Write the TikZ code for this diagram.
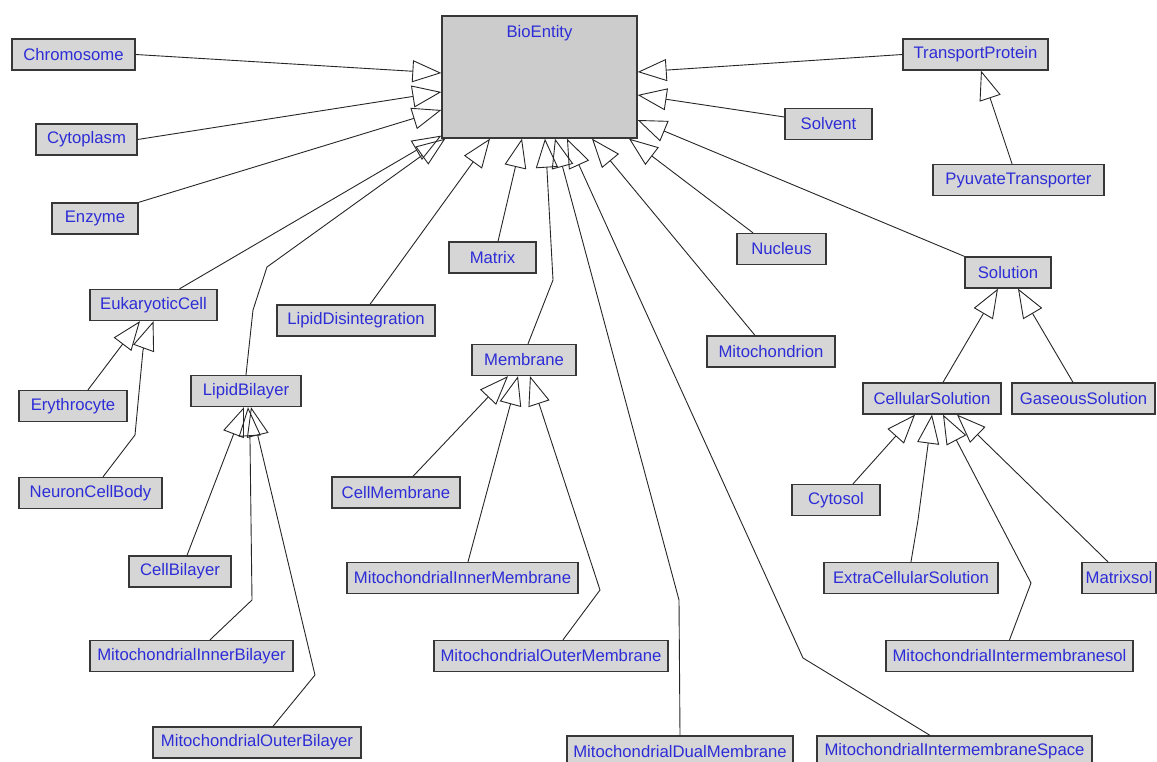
\documentclass[tikz,border=0pt]{standalone}
\usepackage{fontspec}
\setmainfont{Liberation Sans}
\usetikzlibrary{arrows.meta}
\definecolor{boxfill}{RGB}{214,214,214}
\definecolor{bigfill}{RGB}{204,204,204}
\definecolor{boxline}{RGB}{55,55,55}
\definecolor{labelblue}{RGB}{45,45,215}
\begin{document}
\begin{tikzpicture}
[x=1pt,y=-1pt,>={Triangle[open,length=29pt,width=22pt]},
boxtext/.style = {text=labelblue, font=\fontsize{16.7}{20}\selectfont},
box/.style = {draw=boxline, line width=1.3pt, fill=boxfill, boxtext, minimum height=31pt, inner sep=1pt},
isa/.style = {->, line width=0.9pt, draw=black!85},]
\clip (0,0) rectangle (1157,762);
\node (BE) at (539.5,77)[box,fill=bigfill,minimum width=195pt,minimum height=122pt,label={[boxtext,anchor=north,yshift=-7pt]north:BioEntity}] {};
\node (CH) at (73.5,54.5)[box,minimum width=123pt] {Chromosome};
\node (CY) at (86.5,139.5)[box,minimum width=101pt] {Cytoplasm};
\node (EN) at (95,218.5)[box,minimum width=86pt] {Enzyme};
\node (TP) at (975.5,54.5)[box,minimum width=145pt] {TransportProtein};
\node (SV) at (828.5,124)[box,minimum width=87pt] {Solvent};
\node (PT) at (1018.5,180)[box,minimum width=171pt] {PyuvateTransporter};
\node (NU) at (781.5,249)[box,minimum width=89pt] {Nucleus};
\node (MX) at (492.5,257.5)[box,minimum width=87pt] {Matrix};
\node (SO) at (1008,272.5)[box,minimum width=86pt] {Solution};
\node (EC) at (153.5,305)[box,minimum width=127pt] {EukaryoticCell};
\node (LD) at (356,320.5)[box,minimum width=158pt] {LipidDisintegration};
\node (MT) at (771,351.5)[box,minimum width=128pt] {Mitochondrion};
\node (MB) at (524,360)[box,minimum width=104pt] {Membrane};
\node (LB) at (246,391)[box,minimum width=110pt] {LipidBilayer};
\node (CS) at (932,398.5)[box,minimum width=138pt] {CellularSolution};
\node (GS) at (1083.5,398.5)[box,minimum width=143pt] {GaseousSolution};
\node (ER) at (73,406)[box,minimum width=108pt] {Erythrocyte};
\node (NC) at (90.5,493)[box,minimum width=143pt] {NeuronCellBody};
\node (CM) at (396,492.5)[box,minimum width=128pt] {CellMembrane};
\node (CT) at (836,500)[box,minimum width=88pt] {Cytosol};
\node (CB) at (180,571.5)[box,minimum width=102pt] {CellBilayer};
\node (IM) at (462.5,578)[box,minimum width=231pt] {MitochondrialInnerMembrane};
\node (EX) at (911,578)[box,minimum width=174pt] {ExtraCellularSolution};
\node (MS) at (1119,578)[box,minimum width=74pt] {Matrixsol};
\node (IB) at (191.5,656)[box,minimum width=203pt] {MitochondrialInnerBilayer};
\node (OM) at (551,656)[box,minimum width=234pt] {MitochondrialOuterMembrane};
\node (IS) at (1009.5,656)[box,minimum width=247pt] {MitochondrialIntermembranesol};
\node (OB) at (257,742.5)[box,minimum width=208pt] {MitochondrialOuterBilayer};
\node (DM) at (680,751.5)[box,minimum width=226pt] {MitochondrialDualMembrane};
\node (SP) at (954.5,751.5)[box,minimum width=275pt] {MitochondrialIntermembraneSpace};
% subclasses of BioEntity
\draw[isa] (CH.east) -- ([yshift=4pt]BE.west);
\draw[isa] (CY.east) -- ([yshift=-15pt]BE.west);
\draw[isa] (EN.north east) -- ([yshift=-33pt]BE.west);
\draw[isa] ([xshift=26pt]EC.north) -- ([yshift=3pt]BE.south west);
\draw[isa] (LB.north) -- (253,310) -- (267,267) -- ([xshift=4pt]BE.south west);
\draw[isa] ([xshift=14pt]LD.north) -- ([xshift=-49.5pt]BE.south);
\draw[isa] ([xshift=5.5pt]MX.north) -- ([xshift=-17.5pt]BE.south);
\draw[isa] ([xshift=4pt]MB.north) -- (553,280) -- (547,170) -- ([xshift=5.5pt]BE.south);
\draw[isa] (DM.north) -- (679,600) -- ([xshift=15.5pt]BE.south);
\draw[isa] ([xshift=-24.5pt]SP.north) -- (803,658) -- ([xshift=27.5pt]BE.south);
\draw[isa] ([xshift=-16pt]MT.north) -- ([xshift=52.5pt]BE.south);
\draw[isa] ([xshift=-28.5pt]NU.north) -- ([xshift=89.5pt]BE.south);
\draw[isa] (TP.west) -- ([yshift=5pt]BE.east);
\draw[isa] ([yshift=7pt]SV.west) -- ([yshift=-18pt]BE.east);
\draw[isa] (SO.north west) -- ([yshift=-43pt]BE.east);
% the other hierarchies
\draw[isa] ([xshift=-6.5pt]PT.north) -- ([xshift=5.5pt]TP.south);
\draw[isa] ([xshift=11pt]CS.north) -- ([xshift=-10pt]SO.south);
\draw[isa] ([xshift=-10.5pt]GS.north) -- ([xshift=10pt]SO.south);
\draw[isa] ([xshift=17pt]CT.north) -- ([xshift=-17pt]CS.south);
\draw[isa] (EX.north) -- (918,520) -- (CS.south);
\draw[isa] (IS.north) -- (1031,583) -- ([xshift=11pt]CS.south);
\draw[isa] ([xshift=-11pt]MS.north) -- ([xshift=25pt]CS.south);
\draw[isa] ([xshift=15pt]ER.north) -- ([xshift=-13.5pt]EC.south);
\draw[isa] ([xshift=12.5pt]NC.north) -- (135,435) -- (143,350) -- (EC.south);
\draw[isa] ([xshift=7pt]CB.north) -- ([xshift=-2pt]LB.south);
\draw[isa] ([xshift=18.5pt]IB.north) -- (252,600) -- (250,440) -- ([xshift=2pt]LB.south);
\draw[isa] ([xshift=16pt]OB.north) -- (315,675) -- ([xshift=5pt]LB.south);
\draw[isa] ([xshift=17pt]CM.north) -- ([xshift=-16pt]MB.south);
\draw[isa] ([xshift=5.5pt]IM.north) -- ([xshift=-6pt]MB.south);
\draw[isa] ([xshift=12pt]OM.north) -- (600,590) -- ([xshift=6pt]MB.south);
\end{tikzpicture}
\end{document}
